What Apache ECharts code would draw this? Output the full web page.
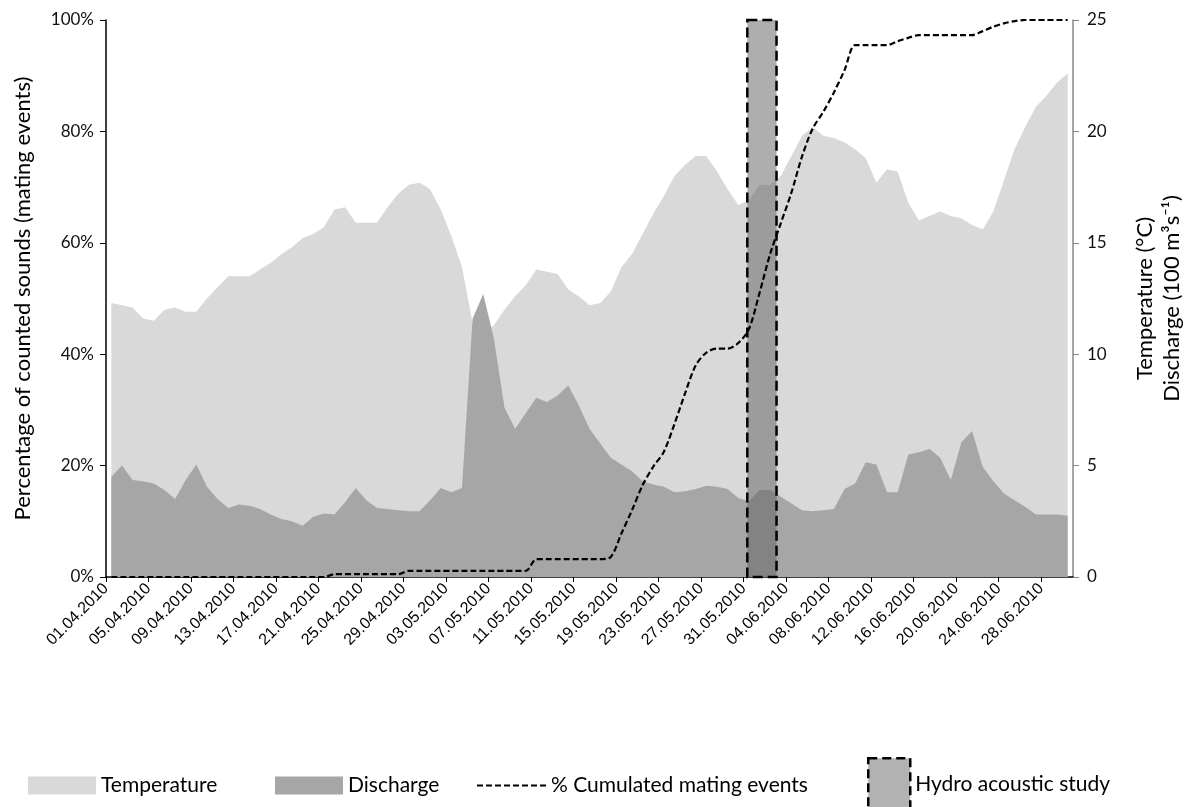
<!DOCTYPE html>
<html>
<head>
<meta charset="utf-8">
<script src="https://cdn.jsdelivr.net/npm/echarts/dist/echarts.min.js"></script>
<style>
  html, body { margin: 0; padding: 0; background: #fff; }
  #chart { width: 1193px; height: 807px; }
</style>
</head>
<body>
<div id="chart"></div>
<script>
// days 01.04.2010 .. 30.06.2010, one value per day
var dates = [];
var monthDays = [[4, 30], [5, 31], [6, 30]];
monthDays.forEach(function (m) {
  for (var d = 1; d <= m[1]; d++) {
    dates.push((d < 10 ? '0' : '') + d + '.0' + m[0] + '.2010');
  }
});

// water temperature (°C), right axis
var temperature = [
  12.3, 12.2, 12.1, 11.6, 11.5, 12.0, 12.1, 11.9, 11.9, 12.5,
  13.0, 13.5, 13.5, 13.5, 13.8, 14.1, 14.5, 14.8, 15.2, 15.4,
  15.7, 16.5, 16.6, 15.9, 15.9, 15.9, 16.6, 17.2, 17.6, 17.7,
  17.4, 16.5, 15.3, 13.9, 11.4, 11.0, 11.3, 12.0, 12.6, 13.1,
  13.8, 13.7, 13.6, 12.9, 12.6, 12.2, 12.3, 12.8, 13.9, 14.5,
  15.4, 16.3, 17.1, 18.0, 18.5, 18.9, 18.9, 18.2, 17.4, 16.7,
  16.9, 17.6, 17.6, 18.0, 18.9, 19.8, 20.2, 19.8, 19.7, 19.5,
  19.2, 18.8, 17.7, 18.3, 18.2, 16.8, 16.0, 16.2, 16.4, 16.2,
  16.1, 15.8, 15.6, 16.4, 17.8, 19.2, 20.2, 21.1, 21.6, 22.2,
  22.6
];

// discharge (100 m3/s), right axis
var discharge = [
  4.5, 5.0, 4.35, 4.3, 4.2, 3.9, 3.5, 4.35, 5.05, 4.05,
  3.5, 3.1, 3.25, 3.2, 3.05, 2.8, 2.6, 2.5, 2.3, 2.7,
  2.85, 2.8, 3.35, 4.0, 3.45, 3.1, 3.05, 3.0, 2.95, 2.95,
  3.45, 4.0, 3.8, 4.0, 11.6, 12.7, 10.7, 7.6, 6.65, 7.35,
  8.05, 7.85, 8.15, 8.6, 7.7, 6.65, 6.0, 5.35, 5.05, 4.75,
  4.3, 4.15, 4.05, 3.8, 3.85, 3.95, 4.1, 4.05, 3.95, 3.55,
  3.4, 3.9, 3.9, 3.6, 3.3, 3.0, 2.95, 3.0, 3.05, 3.95,
  4.2, 5.15, 5.05, 3.8, 3.8, 5.5, 5.6, 5.75, 5.35, 4.35,
  6.05, 6.55, 4.95, 4.3, 3.75, 3.45, 3.15, 2.8, 2.8, 2.8,
  2.75
];

// cumulated mating events (%), left axis
var cumulated = [
  0, 0, 0, 0, 0, 0, 0, 0, 0, 0,
  0, 0, 0, 0, 0, 0, 0, 0, 0, 0,
  0, 0.5, 0.5, 0.5, 0.5, 0.5, 0.5, 0.5, 1.1, 1.1,
  1.1, 1.1, 1.1, 1.1, 1.1, 1.1, 1.1, 1.1, 1.1, 1.1,
  3.2, 3.2, 3.2, 3.2, 3.2, 3.2, 3.2, 3.6, 7.8, 12,
  16.5, 19.8, 22.5, 27.5, 33, 38, 40.3, 41, 41, 42,
  44.5, 51, 58, 63.5, 69, 75.5, 80.5, 83.5, 87, 91,
  95.5, 95.5, 95.5, 95.5, 96.2, 96.8, 97.3, 97.3, 97.3, 97.3,
  97.3, 97.3, 98, 98.8, 99.4, 99.8, 100, 100, 100, 100,
  100
];

// hydro acoustic study period, in days from 01.04.2010
var hydroPeriod = [60.35, 63.1];

function pts(arr) {
  return arr.map(function (v, i) { return [i + 0.5, v]; });
}

var titleFont = 'Lato, "Noto Sans", sans-serif';
// dashed legend stroke
var dashIcon = 'path://M0 0h6v2H0z M9 0h6v2H9z M18 0h6v2h-6z M27 0h6v2h-6z M36 0h6v2h-6z M45 0h6v2h-6z M54 0h6v2h-6z M63 0h6v2h-6z';

var chart = echarts.init(document.getElementById('chart'));
chart.setOption({
  animation: false,
  backgroundColor: '#ffffff',
  grid: { left: 106, right: 118, top: 20, bottom: 230, containLabel: false },
  xAxis: {
    type: 'value',
    min: 0,
    max: dates.length,
    interval: 4,
    splitLine: { show: false },
    axisLine: { show: true, lineStyle: { color: '#000', width: 1.5 } },
    axisTick: { show: true, length: 5, lineStyle: { color: '#000' } },
    axisLabel: {
      rotate: 45,
      margin: 9,
      showMaxLabel: false,
      fontFamily: '"Liberation Sans", Arial, sans-serif',
      fontSize: 16,
      color: '#000',
      formatter: function (v) { return dates[v] || ''; }
    }
  },
  yAxis: [
    {
      type: 'value',
      min: 0,
      max: 100,
      interval: 20,
      position: 'left',
      name: 'Percentage of counted sounds (mating events)',
      nameLocation: 'middle',
      nameGap: 72,
      nameTextStyle: { fontFamily: titleFont, fontSize: 22, color: '#000' },
      splitLine: { show: false },
      axisLine: { show: true, lineStyle: { color: '#000', width: 1.5 } },
      axisTick: { show: true, length: 6, lineStyle: { color: '#000' } },
      axisLabel: { formatter: '{value}%', fontFamily: titleFont, fontSize: 17, color: '#111', margin: 12 }
    },
    {
      type: 'value',
      min: 0,
      max: 25,
      interval: 5,
      position: 'right',
      name: 'Temperature (°C)\nDischarge (100 m³s⁻¹)',
      nameLocation: 'middle',
      nameGap: 58,
      nameTextStyle: { fontFamily: titleFont, fontSize: 22, lineHeight: 27, color: '#000' },
      splitLine: { show: false },
      axisLine: { show: true, lineStyle: { color: '#888', width: 1.5 } },
      axisTick: { show: true, length: 6, lineStyle: { color: '#888' } },
      axisLabel: { fontFamily: titleFont, fontSize: 17, color: '#111', margin: 14 }
    }
  ],
  legend: [
    {
      data: ['Temperature'], left: 23, top: 770, icon: 'rect',
      itemWidth: 68, itemHeight: 18, selectedMode: false,
      textStyle: { fontFamily: titleFont, fontSize: 21, color: '#000' }
    },
    {
      data: ['Discharge'], left: 270, top: 770, icon: 'rect',
      itemWidth: 68, itemHeight: 18, selectedMode: false,
      textStyle: { fontFamily: titleFont, fontSize: 21, color: '#000' }
    },
    {
      data: [{ name: '% Cumulated mating events', icon: dashIcon }], left: 472, top: 770,
      itemWidth: 69, itemHeight: 4, selectedMode: false,
      itemStyle: { color: '#000' },
      textStyle: { fontFamily: titleFont, fontSize: 21, color: '#000' }
    },
    {
      data: ['Hydro acoustic study'], left: 862, top: 752, icon: 'rect',
      itemWidth: 42, itemHeight: 52, selectedMode: false,
      itemStyle: { color: '#b2b2b2', borderColor: '#000', borderWidth: 2.5, borderType: [9, 5] },
      textStyle: { fontFamily: titleFont, fontSize: 21, color: '#000' }
    }
  ],
  series: [
    {
      name: 'Temperature',
      type: 'line',
      yAxisIndex: 1,
      data: pts(temperature),
      symbol: 'none',
      lineStyle: { width: 0 },
      itemStyle: { color: '#d9d9d9' },
      areaStyle: { color: '#d9d9d9', opacity: 1 },
      z: 1
    },
    {
      name: 'Discharge',
      type: 'line',
      yAxisIndex: 1,
      data: pts(discharge),
      symbol: 'none',
      lineStyle: { width: 0 },
      itemStyle: { color: '#a6a6a6' },
      areaStyle: { color: '#a6a6a6', opacity: 1 },
      z: 2
    },
    {
      name: 'Hydro acoustic study',
      type: 'custom',
      yAxisIndex: 0,
      data: [hydroPeriod],
      itemStyle: { color: 'rgba(100,100,100,0.52)' },
      renderItem: function (params, api) {
        var p0 = api.coord([api.value(0), 100]);
        var p1 = api.coord([api.value(1), 0]);
        return {
          type: 'rect',
          shape: { x: p0[0], y: p0[1], width: p1[0] - p0[0], height: p1[1] - p0[1] },
          style: {
            fill: 'rgba(100,100,100,0.52)',
            stroke: '#000',
            lineWidth: 2.5,
            lineDash: [10, 5]
          }
        };
      },
      z: 3
    },
    {
      name: '% Cumulated mating events',
      type: 'line',
      yAxisIndex: 0,
      data: pts(cumulated),
      symbol: 'none',
      smooth: 0.3,
      itemStyle: { color: '#000' },
      lineStyle: { color: '#000', width: 2.2, type: [6, 3] },
      z: 4
    }
  ]
});
</script>
</body>
</html>
